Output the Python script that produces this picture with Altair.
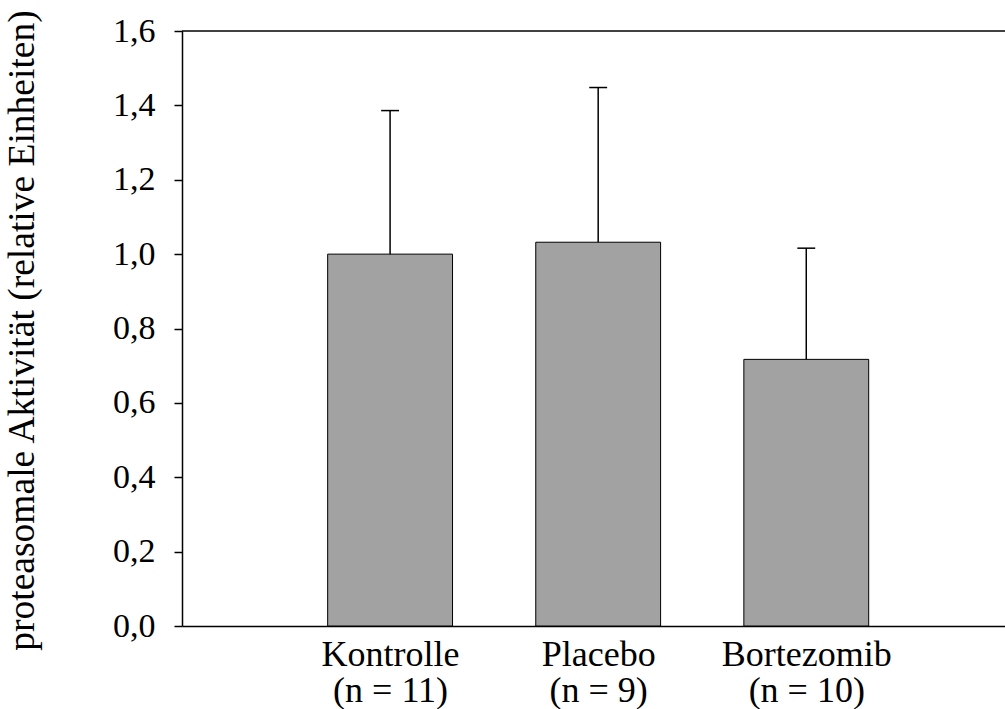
import altair as alt
import pandas as pd

# Groups, sample sizes and measured proteasomal activity (mean and SD)
groups = ["Kontrolle", "Placebo", "Bortezomib"]
n_values = [11, 9, 10]
means = [1.0, 1.032, 0.717]
sd = [0.386, 0.416, 0.299]
positions = [1, 2, 3]
y_ticks = [0.0, 0.2, 0.4, 0.6, 0.8, 1.0, 1.2, 1.4, 1.6]

FONT = "Liberation Serif"
BAR_HALF = 0.3
CAP_HALF = 0.043

df = pd.DataFrame({
    "group": groups,
    "n": n_values,
    "pos": positions,
    "mean": means,
    "sd": sd,
})
df["left"] = df["pos"] - BAR_HALF
df["right"] = df["pos"] + BAR_HALF
df["upper"] = df["mean"] + df["sd"]
df["cap_l"] = df["pos"] - CAP_HALF
df["cap_r"] = df["pos"] + CAP_HALF

# Two-line category labels: name and sample size
label_expr = ""
for p, g, n in zip(positions, groups, n_values):
    label_expr += f"datum.value == {p} ? ['{g}', '(n = {n})'] : "
label_expr += "''"

x_scale = alt.Scale(domain=[0, 3.955], nice=False, zero=False)
y_scale = alt.Scale(domain=[0, 1.6], nice=False)

x_axis = alt.Axis(
    values=positions, labelExpr=label_expr, ticks=False, grid=False,
    title=None, labelFont=FONT, labelFontSize=36, labelColor="black",
    labelPadding=11, labelLineHeight=36, domainColor="black",
    domainWidth=1.5, labelBaseline="top",
)
y_axis = alt.Axis(
    values=y_ticks, labelExpr="replace(format(datum.value, '.1f'), '.', ',')",
    grid=False, title="proteasomale Aktivität (relative Einheiten)",
    labelFont=FONT, labelFontSize=34, labelColor="black", labelPadding=19,
    tickSize=8, tickColor="black", tickWidth=1.5, domainColor="black",
    domainWidth=1.5, titleFont=FONT, titleFontSize=37.5, titleFontWeight="normal",
    titleColor="black", titleX=-160, titleY=299, titleAngle=-90,
    titleAlign="center", titleBaseline="middle",
)

base = alt.Chart(df)

bars = base.mark_rect(fill="#a2a2a2", stroke="black", strokeWidth=1).encode(
    x=alt.X("left:Q", scale=x_scale, axis=x_axis),
    x2="right:Q",
    y=alt.Y("mean:Q", scale=y_scale, axis=y_axis),
    y2=alt.datum(0),
)

whisker = base.mark_rule(color="black", strokeWidth=1.5).encode(
    x=alt.X("pos:Q", scale=x_scale),
    y=alt.Y("mean:Q", scale=y_scale),
    y2="upper:Q",
)

cap = base.mark_rule(color="black", strokeWidth=1.5).encode(
    x=alt.X("cap_l:Q", scale=x_scale),
    x2="cap_r:Q",
    y=alt.Y("upper:Q", scale=y_scale),
)

# Upper frame line of the plot area
frame_top = alt.Chart(pd.DataFrame({"top": [1.6]})).mark_rule(
    color="black", strokeWidth=1.5
).encode(
    x=alt.value(0),
    x2=alt.value(823),
    y=alt.Y("top:Q", scale=y_scale),
)

chart = alt.layer(bars, whisker, cap, frame_top).properties(
    width=823,
    height=595,
    padding={"left": 182, "top": 31, "right": 0, "bottom": 83},
    autosize=alt.AutoSizeParams(type="none"),
    background="white",
).configure_view(stroke=None)

chart.save("out.html", embed_options={"renderer": "svg", "actions": False})
